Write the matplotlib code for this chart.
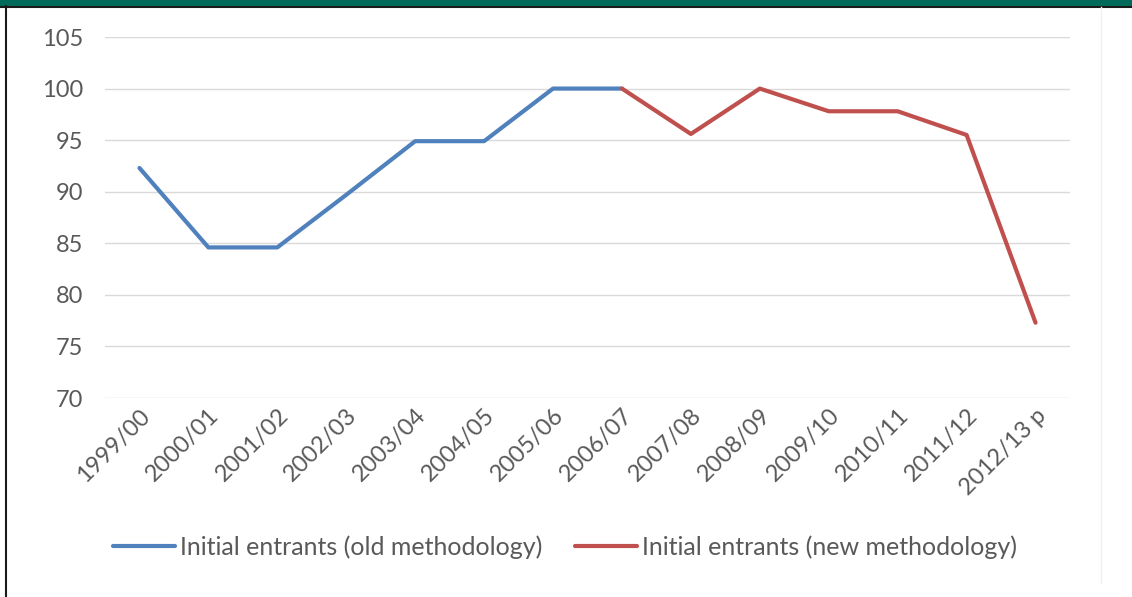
import numpy as np
import matplotlib.pyplot as plt
from matplotlib.patches import Rectangle
from matplotlib.lines import Line2D

years = ['1999/00', '2000/01', '2001/02', '2002/03', '2003/04', '2004/05',
         '2005/06', '2006/07', '2007/08', '2008/09', '2009/10', '2010/11',
         '2011/12', '2012/13 p']
nan = np.nan
old_method = [92.3, 84.6, 84.6, 89.7, 94.9, 94.9, 100.0, 100.0,
              nan, nan, nan, nan, nan, nan]
new_method = [nan, nan, nan, nan, nan, nan, nan, 100.0,
              95.6, 100.0, 97.8, 97.8, 95.5, 77.3]
labels = ['Initial entrants (old methodology)', 'Initial entrants (new methodology)']

plt.rcParams['font.family'] = ['Lato', 'DejaVu Sans']
grey = '#595959'

fig = plt.figure(figsize=(11.32, 5.97), dpi=100)
ax = fig.add_axes([105 / 1132, 1 - 398 / 597, 965 / 1132, 361 / 597])

x = np.arange(len(years))
ax.plot(x, old_method, color='#4F81BD', lw=3, solid_capstyle='round', label=labels[0])
ax.plot(x, new_method, color='#C0504D', lw=3, solid_capstyle='round', label=labels[1])

ax.set_xlim(-0.5, len(years) - 0.5)
ax.set_ylim(70, 105)
ax.set_yticks(range(70, 106, 5))
ax.set_xticks(x)
ax.set_xticklabels(years, rotation=45, ha='right', rotation_mode='anchor')
ax.tick_params(axis='both', length=0, labelsize=17, labelcolor=grey)
ax.tick_params(axis='y', pad=16)
ax.tick_params(axis='x', pad=5)
ax.grid(axis='y', color='#D9D9D9', lw=1)
ax.set_axisbelow(True)
for s in ax.spines.values():
    s.set_visible(False)

leg = fig.legend(loc='center', bbox_to_anchor=(565 / 1132, 1 - 547 / 597), ncol=2,
                 frameon=False, fontsize=18, handlelength=2.5, handletextpad=0.2,
                 columnspacing=1.28)
for t in leg.get_texts():
    t.set_color(grey)

# frame decorations
fig.add_artist(Rectangle((0, 1 - 6 / 597), 1, 6 / 597, transform=fig.transFigure,
                         color='#006B5A', lw=0))
fig.add_artist(Line2D([0, 1], [1 - 6.5 / 597] * 2, transform=fig.transFigure,
                      color='#1a1a1a', lw=1.5))
fig.add_artist(Line2D([6 / 1132] * 2, [0, 1 - 6 / 597], transform=fig.transFigure,
                      color='#1a1a1a', lw=1.5))
fig.add_artist(Line2D([1101 / 1132] * 2, [1 - 583 / 597, 1 - 7 / 597],
                      transform=fig.transFigure, color='#F0F0F0', lw=1))

fig.savefig('out.png', dpi=100)
